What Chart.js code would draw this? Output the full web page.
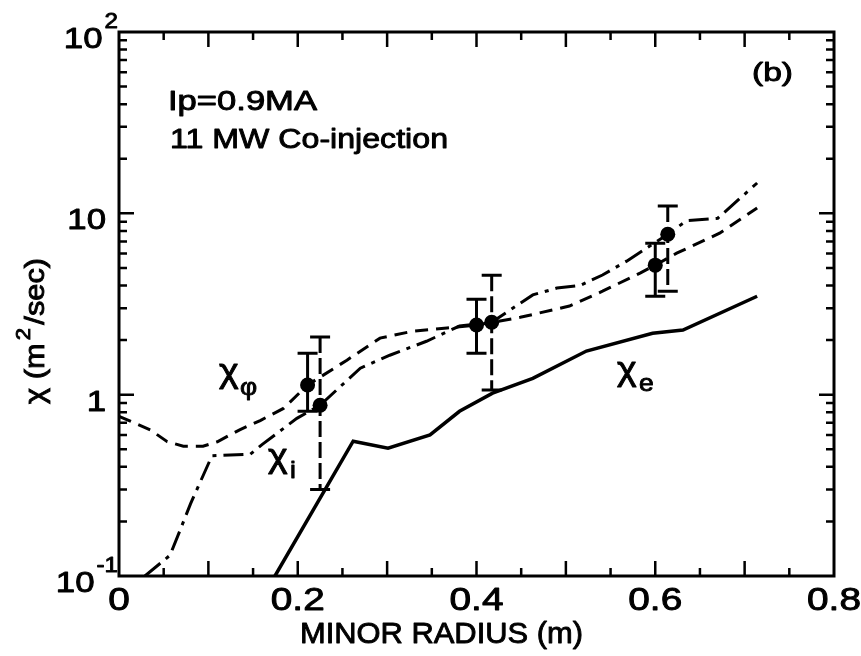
<!DOCTYPE html>
<html>
<head>
<meta charset="utf-8">
<script src="https://cdn.jsdelivr.net/npm/chart.js@4/dist/chart.umd.min.js"></script>
<style>
  html, body { margin: 0; padding: 0; background: #fff; }
  canvas { display: block; }
</style>
</head>
<body>
<canvas id="chart" width="861" height="656"></canvas>
<script>
// Momentum (chi_phi), ion (chi_i) and electron (chi_e) diffusivity profiles
const radiusPhi = [0, 0.035, 0.054, 0.072, 0.094, 0.11, 0.135, 0.158, 0.184, 0.211, 0.255, 0.292, 0.329, 0.367, 0.40, 0.449, 0.504, 0.541, 0.583, 0.60, 0.624, 0.672, 0.714];
const chiPhi    = [0.76, 0.64, 0.55, 0.52, 0.52, 0.55, 0.64, 0.72, 0.84, 1.13, 1.55, 2.05, 2.24, 2.33, 2.42, 2.67, 3.08, 3.72, 4.68, 5.18, 6.03, 7.77, 10.7];

const radiusI = [0.029, 0.057, 0.068, 0.080, 0.104, 0.147, 0.160, 0.199, 0.225, 0.27, 0.303, 0.344, 0.381, 0.417, 0.463, 0.49, 0.516, 0.541, 0.568, 0.614, 0.635, 0.67, 0.714];
const chiI    = [0.1, 0.13, 0.177, 0.25, 0.46, 0.47, 0.53, 0.74, 0.875, 1.40, 1.65, 1.97, 2.39, 2.51, 3.55, 3.87, 4.0, 4.57, 5.45, 7.67, 9.1, 9.4, 14.7];

const radiusE = [0.1745, 0.262, 0.301, 0.348, 0.381, 0.418, 0.463, 0.523, 0.597, 0.631, 0.714];
const chiE    = [0.1, 0.554, 0.507, 0.60, 0.81, 1.02, 1.23, 1.74, 2.18, 2.27, 3.49];

// Measured points with error bars
const phiPointR = [0.211, 0.400, 0.600];
const phiPoint  = [1.13, 2.42, 5.18];
const phiLow    = [0.81, 1.69, 3.49];
const phiHigh   = [1.69, 3.36, 6.85];

const iPointR = [0.225, 0.417, 0.614];
const iPoint  = [0.875, 2.51, 7.67];
const iLow    = [0.30, 1.06, 3.72];
const iHigh   = [2.08, 4.56, 10.96];

// Axis labels
const xTickValues = [0, 0.2, 0.4, 0.6, 0.8];
const xTickLabels = ['0', '0.2', '0.4', '0.6', '0.8'];
const yTickValues = [0.1, 1, 10, 100];
const yTickBase   = ['10', '1', '10', '10'];
const yTickExp    = ['-1', '', '', '2'];

const pts = (xs, ys) => xs.map((x, i) => ({ x: x, y: ys[i] }));
const FONT = '"Liberation Sans", Arial, sans-serif';

// text with horizontal stretch and a thin outline to give the heavy lettering look
function stretchText(ctx, str, x, y, size, sx, align, weight) {
  ctx.save();
  ctx.font = (weight || 'normal') + ' ' + size + 'px ' + FONT;
  ctx.translate(x, y);
  ctx.scale(sx, 1);
  ctx.textAlign = align || 'left';
  ctx.textBaseline = 'alphabetic';
  ctx.lineWidth = 0.9;
  ctx.lineJoin = 'round';
  ctx.fillText(str, 0, 0);
  ctx.strokeText(str, 0, 0);
  ctx.restore();
}

function fitText(ctx, str, x, y, size, width, weight) {
  ctx.save();
  ctx.font = (weight || 'normal') + ' ' + size + 'px ' + FONT;
  const s = width / ctx.measureText(str).width;
  ctx.restore();
  stretchText(ctx, str, x, y, size, s, 'left', weight);
}

const decor = {
  id: 'decor',
  beforeDraw(chart) {
    const ctx = chart.ctx;
    ctx.save();
    ctx.fillStyle = '#fff';
    ctx.fillRect(0, 0, chart.width, chart.height);
    ctx.restore();
  },
  beforeDatasetsDraw(chart) {
    const ctx = chart.ctx, xs = chart.scales.x, ys = chart.scales.y;
    ctx.save();
    ctx.strokeStyle = '#000';
    ctx.lineWidth = 3;
    chart.data.datasets.forEach(ds => {
      if (!ds.errLow) return;
      ds.data.forEach((p, i) => {
        const x = xs.getPixelForValue(p.x);
        const yl = ys.getPixelForValue(ds.errLow[i]);
        const yh = ys.getPixelForValue(ds.errHigh[i]);
        ctx.setLineDash(ds.errDash || []);
        ctx.beginPath(); ctx.moveTo(x, yh); ctx.lineTo(x, yl); ctx.stroke();
        ctx.setLineDash([]);
        ctx.beginPath();
        ctx.moveTo(x - 10, yh); ctx.lineTo(x + 10, yh);
        ctx.moveTo(x - 10, yl); ctx.lineTo(x + 10, yl);
        ctx.stroke();
      });
    });
    ctx.restore();
  },
  afterDraw(chart) {
    const ctx = chart.ctx, xs = chart.scales.x, ys = chart.scales.y;
    const a = chart.chartArea;
    ctx.save();
    ctx.strokeStyle = '#000';
    ctx.fillStyle = '#000';
    ctx.lineWidth = 3;
    ctx.strokeRect(a.left, a.top, a.right - a.left, a.bottom - a.top);

    // inward ticks, x axis (bottom and top)
    ctx.lineWidth = 2.5;
    ctx.beginPath();
    for (let k = 1; k < 16; k++) {
      const x = xs.getPixelForValue(k * 0.05);
      const len = (k % 2 === 0) ? 15 : 8;
      ctx.moveTo(x, a.bottom); ctx.lineTo(x, a.bottom - len);
      ctx.moveTo(x, a.top); ctx.lineTo(x, a.top + len);
    }
    // inward ticks, log y axis (left and right)
    [0.1, 1, 10].forEach(d => {
      for (let m = 1; m <= 9; m++) {
        if (d === 0.1 && m === 1) continue;
        const y = ys.getPixelForValue(m * d);
        const len = (m === 1) ? 15 : 8;
        ctx.moveTo(a.left, y); ctx.lineTo(a.left + len, y);
        ctx.moveTo(a.right, y); ctx.lineTo(a.right - len, y);
      }
    });
    ctx.stroke();

    // x tick labels
    xTickValues.forEach((v, i) => {
      stretchText(ctx, xTickLabels[i], xs.getPixelForValue(v), 610, 31, 1.25, 'center');
    });

    // y tick labels (powers of ten)
    yTickValues.forEach((v, i) => {
      const y = ys.getPixelForValue(v);
      if (yTickExp[i]) {
        ctx.font = '22px ' + FONT;
        const ew = ctx.measureText(yTickExp[i]).width * 1.1;
        stretchText(ctx, yTickExp[i], 118, y - 4, 22, 1.1, 'right');
        stretchText(ctx, yTickBase[i], 118 - ew - 2, y + 16, 29, 1.2, 'right');
      } else {
        stretchText(ctx, yTickBase[i], 106, y + 16, 29, 1.2, 'right');
      }
    });

    // axis titles
    fitText(ctx, 'MINOR RADIUS (m)', 300, 643, 30, 283);
    ctx.save();
    ctx.translate(44, 404);
    ctx.rotate(-Math.PI / 2);
    ctx.font = '28px ' + FONT;
    const wa = ctx.measureText('χ (m').width, wc = ctx.measureText('/sec)').width;
    ctx.font = '20px ' + FONT;
    const wb = ctx.measureText('2').width;
    const s = 146 / (wa + wb + wc + 6);
    ctx.scale(s, 1);
    ctx.lineWidth = 0.9;
    ctx.font = '28px ' + FONT;
    ctx.fillText('χ (m', 0, 0); ctx.strokeText('χ (m', 0, 0);
    ctx.font = '20px ' + FONT;
    ctx.fillText('2', wa + 3, -14); ctx.strokeText('2', wa + 3, -14);
    ctx.font = '28px ' + FONT;
    ctx.fillText('/sec)', wa + wb + 6, 0); ctx.strokeText('/sec)', wa + wb + 6, 0);
    ctx.restore();

    // annotations
    fitText(ctx, 'Ip=0.9MA', 168, 110, 27, 149);
    fitText(ctx, '11 MW Co-injection', 170, 148, 27, 278);
    fitText(ctx, '(b)', 752, 81, 26, 41);

    // curve labels
    stretchText(ctx, 'χ', 219, 382, 34, 1.1, 'left');
    stretchText(ctx, 'φ', 240, 395, 24, 1.1, 'left');
    stretchText(ctx, 'χ', 268, 467, 34, 1.1, 'left');
    stretchText(ctx, 'i', 290, 478, 24, 1.1, 'left');
    stretchText(ctx, 'χ', 617, 380, 34, 1.1, 'left');
    stretchText(ctx, 'e', 639, 391, 24, 1.1, 'left');
    ctx.restore();
  }
};

new Chart(document.getElementById('chart'), {
  type: 'scatter',
  data: {
    datasets: [
      { label: 'χφ', data: pts(radiusPhi, chiPhi), showLine: true, borderColor: '#000', borderWidth: 3,
        borderDash: [13, 8], pointRadius: 0, tension: 0, fill: false },
      { label: 'χi', data: pts(radiusI, chiI), showLine: true, borderColor: '#000', borderWidth: 3,
        borderDash: [20, 7, 4, 7], pointRadius: 0, tension: 0, fill: false },
      { label: 'χe', data: pts(radiusE, chiE), showLine: true, borderColor: '#000', borderWidth: 3.5,
        pointRadius: 0, tension: 0, fill: false },
      { label: 'χφ measured', data: pts(phiPointR, phiPoint), showLine: false, pointRadius: 7.5,
        pointBackgroundColor: '#000', pointBorderWidth: 0, errLow: phiLow, errHigh: phiHigh },
      { label: 'χi measured', data: pts(iPointR, iPoint), showLine: false, pointRadius: 7.5,
        pointBackgroundColor: '#000', pointBorderWidth: 0, errLow: iLow, errHigh: iHigh, errDash: [16, 5] }
    ]
  },
  options: {
    responsive: false,
    animation: false,
    devicePixelRatio: 1,
    layout: { padding: { left: 119, top: 32, right: 27, bottom: 80 } },
    scales: {
      x: { type: 'linear', min: 0, max: 0.8, display: false },
      y: { type: 'logarithmic', min: 0.1, max: 100, display: false }
    },
    plugins: { legend: { display: false }, tooltip: { enabled: false } }
  },
  plugins: [decor]
});
</script>
</body>
</html>
